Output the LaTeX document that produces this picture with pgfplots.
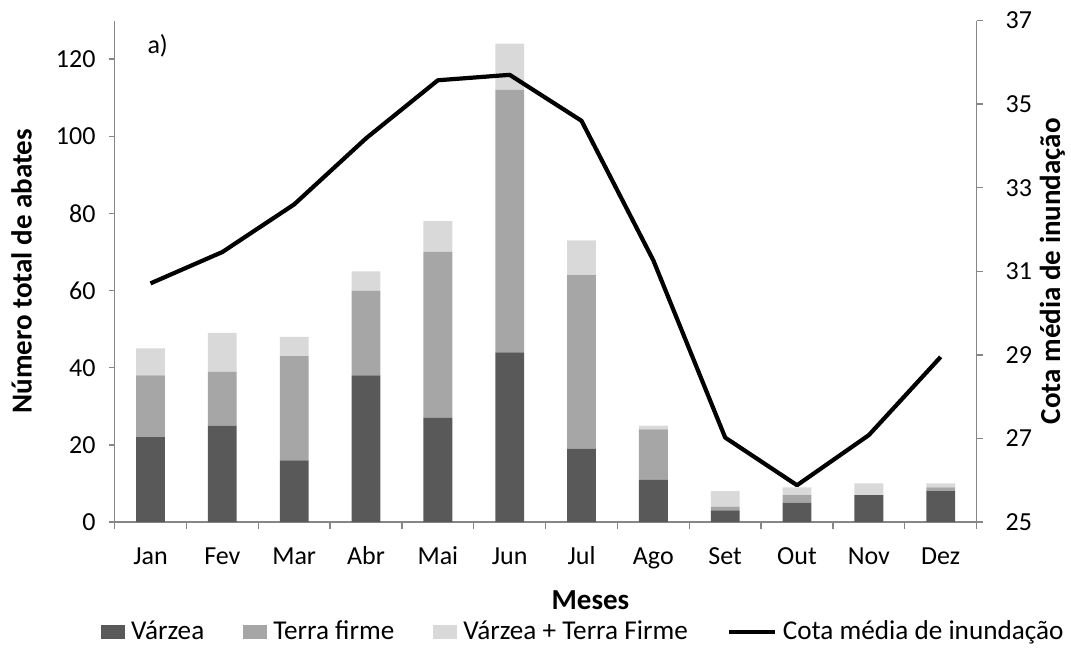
\documentclass[border=0pt]{standalone}
\usepackage{pgfplots}
\pgfplotsset{compat=1.18}
\usepackage{pgfplotstable}
\usepackage{fontspec}
\setmainfont{Carlito}

\definecolor{varzea}{HTML}{595959}
\definecolor{terra}{HTML}{A6A6A6}
\definecolor{ambos}{HTML}{D9D9D9}
\definecolor{eixo}{HTML}{868686}

% mes, Várzea, Terra firme, Várzea + Terra Firme, cota média (m)
\pgfplotstableread{
m  V   TF  VTF  cota
1  22  16  7    30.71
2  25  14  10   31.46
3  16  27  5    32.60
4  38  22  5    34.18
5  27  43  8    35.57
6  44  68  12   35.70
7  19  45  9    34.60
8  11  13  1    31.26
9  3   1   4    27.02
10 5   2   2    25.88
11 7   0   3    27.08
12 8   1   1    28.95
}\dados

\pgfplotsset{
  barlegend/.style={legend image code/.code={\fill[##1,draw=none] (0pt,-3.6pt) rectangle (12pt,3.6pt);}},
  linelegend/.style={legend image code/.code={\draw[##1] (0pt,0pt) -- (23pt,0pt);}},
  base/.style={
    scale only axis, width=431pt, height=250.75pt,
    at={(0,0)}, anchor=south west,
    xmin=0.5, xmax=12.5,
    axis line style={eixo, line width=0.7pt},
    tick style={eixo, line width=0.7pt},
    tick align=outside,
    major tick length=3pt,
    /pgf/number format/assume math mode=true,
    tick label style={font=\fontsize{13}{15}\selectfont},
    label style={font=\bfseries\fontsize{14.5}{16}\selectfont},
  }
}

\begin{document}
\begin{tikzpicture}[font=\fontsize{13}{15}\selectfont]
\begin{axis}[
  base,
  ybar stacked, bar width=14.4pt,
  axis y line*=left, axis x line*=bottom,
  ymin=0, ymax=130, ytick={0,20,...,120},
  xtick={1,...,12},
  xticklabels={Jan,Fev,Mar,Abr,Mai,Jun,Jul,Ago,Set,Out,Nov,Dez},
  major x tick style={draw=none},
  minor xtick={0.5,1.5,...,12.5},
  minor tick length=3.5pt,
  minor x tick style={eixo, line width=0.7pt},
  xticklabel style={anchor=base, yshift=-18pt},
  yticklabel style={anchor=east, xshift=-3pt},
  ylabel={Número total de abates},
  ylabel style={at={(axis description cs:-0.108,0.5)}, anchor=center},
  xlabel={Meses},
  xlabel style={at={(axis description cs:0.552,-0.156)}, anchor=center},
  legend style={at={(axis description cs:0.545,-0.219)}, anchor=center, draw=none, fill=none,
    legend columns=-1, font=\fontsize{13.6}{15}\selectfont,
    /tikz/every even column/.append style={column sep=17.5pt},
    /tikz/every odd column/.append style={column sep=1pt},
    inner sep=0pt, cells={anchor=west}},
  barlegend,
]
\addplot[fill=varzea, draw=none] table[x=m, y=V] {\dados};
\addlegendentry{Várzea}
\addplot[fill=terra, draw=none] table[x=m, y=TF] {\dados};
\addlegendentry{Terra firme}
\addplot[fill=ambos, draw=none] table[x=m, y=VTF] {\dados};
\addlegendentry{Várzea + Terra Firme}
\addlegendimage{black, line width=2pt, linelegend}
\addlegendentry{Cota média de inundação}
\node[anchor=center] at (axis description cs:0.05,0.95) {a)};
\end{axis}

\begin{axis}[
  base,
  axis y line*=right, axis x line=none,
  ymin=25, ymax=37, ytick={25,27,...,37},
  yticklabel style={anchor=west, xshift=8pt},
  ylabel={Cota média de inundação},
  ylabel style={at={(axis description cs:1.088,0.5)}, anchor=center},
]
\addplot[black, line width=2.1pt, line join=round, mark=none] table[x=m, y=cota] {\dados};
\end{axis}

\pgfresetboundingbox
\path[use as bounding box] (-57.3pt,-66.5pt) rectangle (478.2pt,261pt);
\end{tikzpicture}
\end{document}
